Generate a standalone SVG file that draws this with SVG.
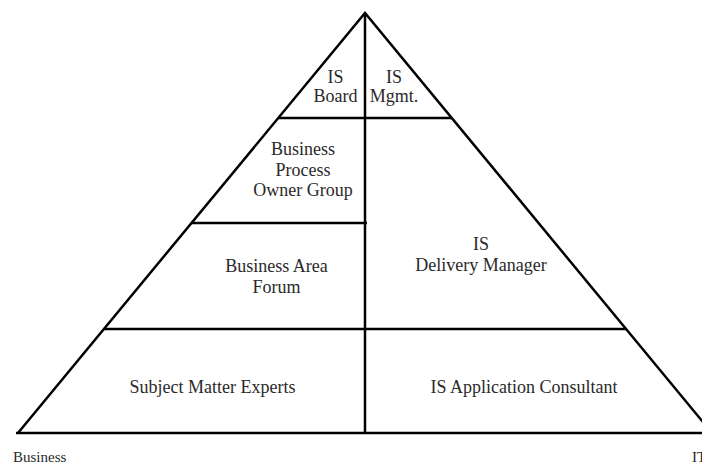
<svg xmlns="http://www.w3.org/2000/svg" width="702" height="464" viewBox="0 0 702 464">
<style>
.ln{stroke:#000;stroke-width:2.5;fill:none;stroke-linecap:butt}
.t{font-family:"Liberation Serif","Times New Roman",serif;font-size:18px;fill:#2a2a2a;text-anchor:middle}
.s{font-family:"Liberation Serif","Times New Roman",serif;font-size:15px;fill:#2a2a2a}
</style>
<rect width="702" height="464" fill="#fff"/>
<g id="connectors">
<polyline class="ln" points="18,433 365,13 712,433"/>
<line class="ln" x1="16" y1="433" x2="702" y2="433"/>
<line class="ln" x1="365" y1="13" x2="365" y2="434"/>
<line class="ln" x1="278" y1="118" x2="452" y2="118"/>
<line class="ln" x1="191" y1="223" x2="367" y2="223"/>
<line class="ln" x1="104" y1="329" x2="626" y2="329"/>
</g>
<g id="is-board"><text class="t" x="335.5" y="83">IS</text><text class="t" x="335.5" y="102">Board</text></g>
<g id="is-mgmt"><text class="t" x="394" y="83">IS</text><text class="t" x="394" y="102">Mgmt.</text></g>
<g id="bpog"><text class="t" x="303" y="155">Business</text><text class="t" x="303" y="175.5">Process</text><text class="t" x="303" y="196">Owner Group</text></g>
<g id="baf"><text class="t" x="276.5" y="272">Business Area</text><text class="t" x="276.5" y="293">Forum</text></g>
<g id="isdm"><text class="t" x="481" y="250">IS</text><text class="t" x="481" y="271">Delivery Manager</text></g>
<g id="sme"><text class="t" x="212.5" y="393">Subject Matter Experts</text></g>
<g id="isac"><text class="t" x="524" y="393">IS Application Consultant</text></g>
<g id="business-label"><text class="s" x="13" y="462">Business</text></g>
<g id="it-label"><text class="s" x="692" y="462">IT</text></g>
</svg>
